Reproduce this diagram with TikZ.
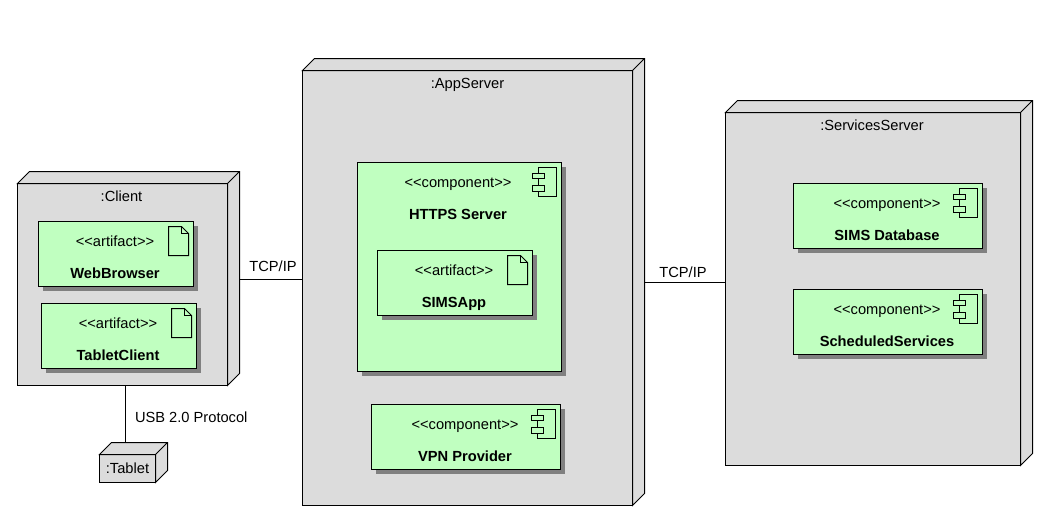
\documentclass[tikz,border=0pt]{standalone}
\usepackage{fontspec}
\setmainfont[Ligatures=TeXOff]{Liberation Sans}
\usetikzlibrary{calc,shadows}
\definecolor{nodegray}{HTML}{DCDCDC}
\definecolor{boxgreen}{HTML}{C0FFC0}
\definecolor{shadowgray}{HTML}{808080}

\begin{document}
\begin{tikzpicture}[x=.75pt,y=-.75pt,line width=.75pt,font=\fontsize{11}{13}\selectfont]
\tikzstyle{every node}=[inner sep=0pt,outer sep=0pt]
\tikzstyle{device}=[draw,fill=nodegray,anchor=north west]
\tikzstyle{greenbox}=[draw,fill=boxgreen,anchor=north west,general shadow={shadow xshift=3.4pt,shadow yshift=-3.4pt,fill=shadowgray}]
\tikzstyle{artifact}=[greenbox,minimum width=116.25pt,minimum height=48.75pt,path picture={
	\draw (path picture bounding box.north east) ++(-25,5) -- ++(13,0) -- ++(7,7) -- ++(0,22) -- ++(-20,0) -- cycle;
	\draw (path picture bounding box.north east) ++(-12,5) -- ++(0,7) -- ++(7,0);
}]
\tikzstyle{component}=[greenbox,minimum width=141.75pt,minimum height=48.75pt,path picture={
	\draw (path picture bounding box.north east) ++(-23,5) rectangle ++(18,29);
	\draw[fill=boxgreen] (path picture bounding box.north east) ++(-29,10.5) rectangle ++(11.5,5.5);
	\draw[fill=boxgreen] (path picture bounding box.north east) ++(-29,23) rectangle ++(11.5,5.5);
}]
\tikzstyle{stereotype}=[anchor=base]
\tikzstyle{boxname}=[anchor=base,font=\fontsize{11}{13}\selectfont\bfseries]
\tikzstyle{edgelabel}=[anchor=base]

\node[device,minimum width=157.5pt,minimum height=151.5pt] (client) at (17.5,183.5) {};
\node[device,minimum width=42pt,minimum height=21pt,text depth=0pt] (tablet) at (99.5,454.5) {};
\node[device,minimum width=247.5pt,minimum height=326.25pt] (appserver) at (302.5,70.5) {};
\node[device,minimum width=221.25pt,minimum height=264.75pt] (servicesserver) at (725.5,112.5) {};

\foreach \n in {client,tablet,appserver,servicesserver}
	\draw[fill=nodegray] (\n.north west) -- ++(12,-12) -- ($(\n.north east)+(12,-12)$)
		-- ($(\n.south east)+(12,-12)$) -- (\n.south east) -- (\n.north east) -- cycle
		(\n.north east) -- ++(12,-12);

\node[stereotype] (clienttitle) at ($(client.north)+(-1,17.5)$) {:Client};
\node[stereotype] (tablettitle) at ($(tablet.center)+(0,5)$) {:Tablet};
\node[stereotype] (appservertitle) at ($(appserver.north)+(0,17.5)$) {:AppServer};
\node[stereotype] (servicesservertitle) at ($(servicesserver.north)+(-1,17.5)$) {:ServicesServer};

\node[artifact] (webbrowser) at (38.5,221.5) {};
\node[stereotype] (webbrowserkind) at ($(webbrowser.north)+(-1,24.5)$) {<<artifact>>};
\node[boxname] (webbrowsername) at ($(webbrowser.north)+(-1,56.7)$) {WebBrowser};

\node[artifact] (tabletclient) at (41.5,303.5) {};
\node[stereotype] (tabletclientkind) at ($(tabletclient.north)+(-1,24.5)$) {<<artifact>>};
\node[boxname] (tabletclientname) at ($(tabletclient.north)+(-1,56.7)$) {TabletClient};

\node[component,minimum width=153pt,minimum height=156.75pt] (https) at (357.5,162.5) {};
\node[stereotype] (httpskind) at ($(https.north)+(-1.5,24.5)$) {<<component>>};
\node[boxname] (httpsname) at ($(https.north)+(-1.5,56.7)$) {HTTPS Server};

\node[artifact] (simsapp) at (377.5,250.5) {};
\node[stereotype] (simsappkind) at ($(simsapp.north)+(-1,24.5)$) {<<artifact>>};
\node[boxname] (simsappname) at ($(simsapp.north)+(-1,56.7)$) {SIMSApp};

\node[component] (vpn) at (371.5,404.5) {};
\node[stereotype] (vpnkind) at ($(vpn.north)+(-1,24.5)$) {<<component>>};
\node[boxname] (vpnname) at ($(vpn.north)+(-1,56.7)$) {VPN Provider};

\node[component] (simsdb) at (793.5,183.5) {};
\node[stereotype] (simsdbkind) at ($(simsdb.north)+(-1,24.5)$) {<<component>>};
\node[boxname] (simsdbname) at ($(simsdb.north)+(-1,56.7)$) {SIMS Database};

\node[component] (scheduled) at (793.5,289.5) {};
\node[stereotype] (scheduledkind) at ($(scheduled.north)+(-1,24.5)$) {<<component>>};
\node[boxname] (scheduledname) at ($(scheduled.north)+(-1,56.7)$) {ScheduledServices};

\coordinate (clientport) at ($(client.east)+(12,-5)$);
\coordinate (appserverport) at ($(appserver.east)+(12,-5.75)$);
\coordinate (tabletport) at ($(tablet.north)+(-2,-12)$);

\draw (clientport) -- (clientport -| appserver.west);
\draw (appserverport) -- (appserverport -| servicesserver.west);
\draw (tabletport |- client.south) -- (tabletport);

\node[edgelabel] (tcpleft) at (273,271.7) {TCP/IP};
\node[edgelabel] (tcpright) at (683,277) {TCP/IP};
\node[edgelabel,anchor=base west] (usb) at (135,422.4) {USB 2.0 Protocol};

\useasboundingbox (0,0) rectangle (1044,518);
\end{tikzpicture}
\end{document}
